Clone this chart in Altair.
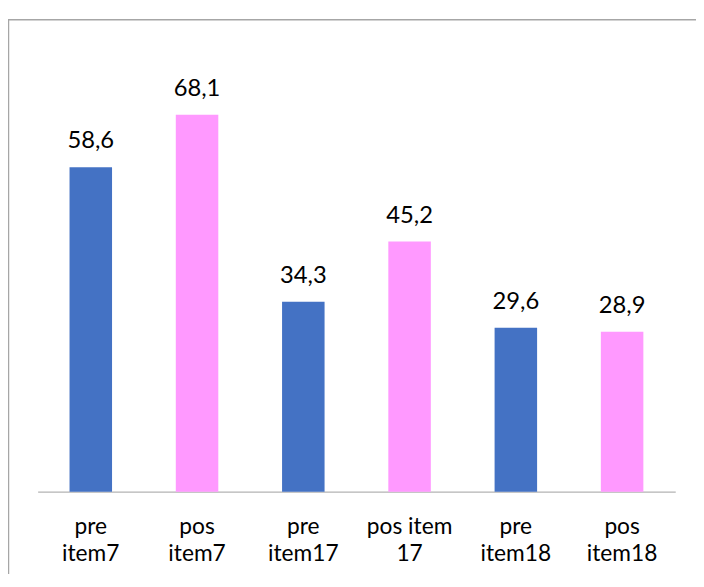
import altair as alt
import pandas as pd

categories = ["pre\nitem7", "pos\nitem7", "pre\nitem17", "pos item\n17", "pre\nitem18", "pos\nitem18"]
groups = ["pre", "pos", "pre", "pos", "pre", "pos"]
values = [58.6, 68.1, 34.3, 45.2, 29.6, 28.9]
value_labels = ["58,6", "68,1", "34,3", "45,2", "29,6", "28,9"]

df = pd.DataFrame({"cat": categories, "grp": groups, "val": values, "lbl": value_labels})

FONT = "Lato"
BORDER = "#A6A6A6"

x = alt.X("cat:N", sort=categories, title=None,
          scale=alt.Scale(paddingInner=0.6, paddingOuter=0.3),
          axis=alt.Axis(labelAngle=0, labelExpr="split(datum.label, '\\n')",
                        labelFontSize=23, labelFont=FONT, labelColor="#000000",
                        labelLineHeight=28, labelPadding=24, ticks=False,
                        domainColor="#B3B3B3", domainWidth=1.3, grid=False))
y = alt.Y("val:Q", title=None, scale=alt.Scale(domain=[0, 80], nice=False), axis=None)

bars = alt.Chart(df).mark_bar().encode(
    x=x, y=y,
    color=alt.Color("grp:N", scale=alt.Scale(domain=["pre", "pos"], range=["#4472C4", "#FF99FF"]), legend=None),
)

labels = alt.Chart(df).mark_text(font=FONT, fontSize=24, color="#000000", baseline="alphabetic", dy=-19).encode(
    x=alt.X("cat:N", sort=categories), y="val:Q", text="lbl:N"
)

border_top = alt.Chart(alt.Data(values=[{}])).mark_rule(color=BORDER, strokeWidth=1.5).encode(
    x=alt.value(-30), x2=alt.value(666), y=alt.value(-29.5)
)
border_left = alt.Chart(alt.Data(values=[{}])).mark_rule(color=BORDER, strokeWidth=1.5).encode(
    x=alt.value(-29.5), y=alt.value(-30), y2=alt.value(540)
)

chart = alt.layer(bars, labels, border_top, border_left).properties(
    width=645, height=448,
    autosize=alt.AutoSizeParams(type="none"),
    padding={"left": 30, "top": 38, "right": 21, "bottom": 80},
).configure_view(stroke=None)

chart.save("out.html", embed_options={"renderer": "svg", "actions": False})
